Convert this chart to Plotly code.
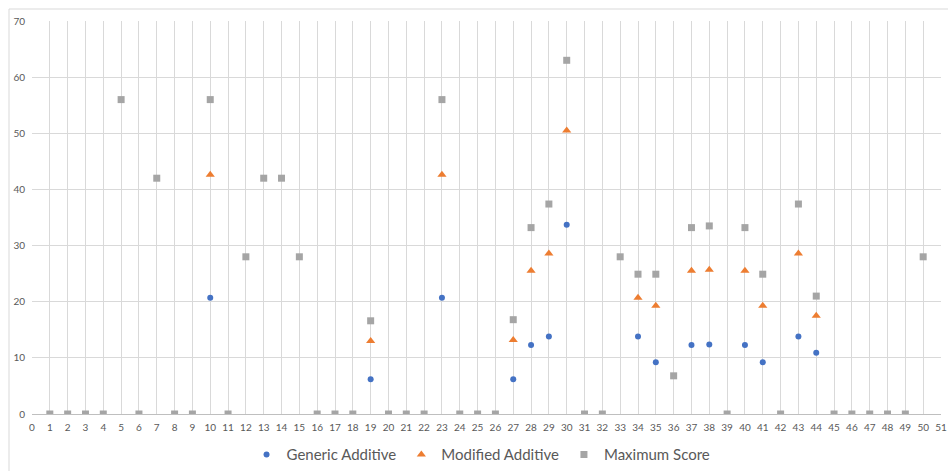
import plotly.graph_objects as go

# Item numbers along the x axis
items = list(range(1, 51))

# Maximum possible score per item
maximum_score = [
    0, 0, 0, 0, 56, 0, 42, 0, 0, 56,
    0, 28, 42, 42, 28, 0, 0, 0, 16.6, 0,
    0, 0, 56, 0, 0, 0, 16.8, 33.2, 37.4, 63,
    0, 0, 28, 24.9, 24.9, 6.8, 33.2, 33.5, 0, 33.2,
    24.9, 0, 37.4, 21.0, 0, 0, 0, 0, 0, 28,
]

# Items scored with the additive methods
generic_x = [10, 19, 23, 27, 28, 29, 30, 34, 35, 37, 38, 40, 41, 43, 44]
generic_additive = [20.7, 6.2, 20.7, 6.2, 12.3, 13.8, 33.7, 13.8, 9.2, 12.3, 12.4, 12.3, 9.2, 13.8, 10.9]

modified_x = [10, 19, 23, 27, 28, 29, 30, 34, 35, 37, 38, 40, 41, 43, 44]
modified_additive = [42.6, 13.0, 42.6, 13.2, 25.5, 28.6, 50.5, 20.7, 19.3, 25.5, 25.7, 25.5, 19.3, 28.6, 17.5]

x_ticks = list(range(0, 52))
y_ticks = list(range(0, 71, 10))

BLUE = "#4472C4"
ORANGE = "#ED7D31"
GREY = "#A5A5A5"
FONT = "Lato, 'Open Sans', sans-serif"

W, H = 948, 471
ML, MR, MT, MB = 32, 7, 21, 57
PW, PH = W - ML - MR, H - MT - MB

fig = go.Figure()
fig.add_trace(go.Scatter(
    x=generic_x, y=generic_additive, mode="markers", name="Generic Additive",
    marker=dict(symbol="circle", size=6, color=BLUE),
))
fig.add_trace(go.Scatter(
    x=modified_x, y=modified_additive, mode="markers", name="Modified Additive",
    marker=dict(symbol="triangle-up", size=8, color=ORANGE),
))
fig.add_trace(go.Scatter(
    x=items, y=maximum_score, mode="markers", name="Maximum Score",
    marker=dict(symbol="square", size=7, color=GREY),
))

# Chart-area frame (top and left edges)
frame_x = (9 - ML) / PW
frame_y = (H - MB - 9) / PH
fig.add_shape(type="line", xref="paper", yref="paper",
              x0=frame_x, x1=1.2, y0=frame_y, y1=frame_y,
              line=dict(color="#D9D9D9", width=1))
fig.add_shape(type="line", xref="paper", yref="paper",
              x0=frame_x, x1=frame_x, y0=-0.2, y1=frame_y,
              line=dict(color="#D9D9D9", width=1))

fig.update_layout(
    width=W, height=H,
    margin=dict(l=ML, r=MR, t=MT, b=MB, autoexpand=False),
    paper_bgcolor="white", plot_bgcolor="white",
    font=dict(family=FONT, color="#595959"),
    showlegend=True,
    legend=dict(
        orientation="h", x=0.494, xanchor="center", y=-0.062, yanchor="top",
        font=dict(size=15, color="#595959", family=FONT),
        itemwidth=30, tracegroupgap=0,
    ),
    xaxis=dict(
        range=[0, 51], tickmode="array", tickvals=x_ticks,
        ticktext=[str(v) for v in x_ticks],
        showgrid=True, gridcolor="#D9D9D9", gridwidth=1,
        zeroline=False, showline=True, linecolor="#BFBFBF", linewidth=1,
        ticks="", ticklabelstandoff=4, automargin=False,
        tickfont=dict(size=10, color="#595959", family=FONT),
        fixedrange=True,
    ),
    yaxis=dict(
        range=[0, 70], tickmode="array", tickvals=y_ticks,
        showgrid=True, gridcolor="#D9D9D9", gridwidth=1,
        zeroline=False, showline=False,
        ticks="", ticklabelstandoff=6, automargin=False,
        tickfont=dict(size=10, color="#595959", family=FONT),
        fixedrange=True,
    ),
)

fig.write_html("out.html")
